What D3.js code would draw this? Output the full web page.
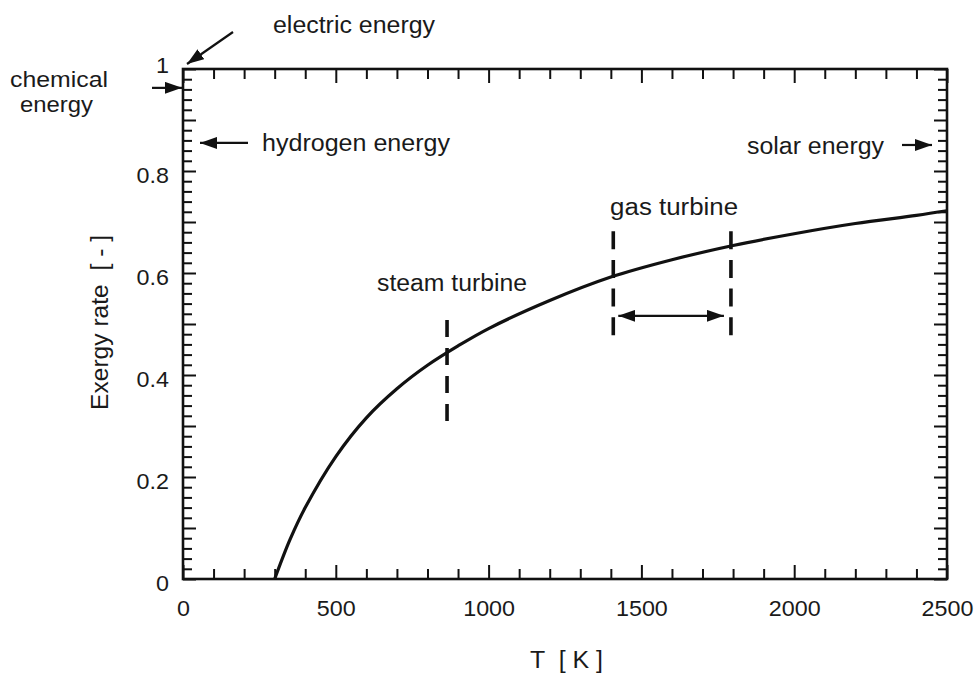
<!DOCTYPE html>
<html>
<head>
<meta charset="utf-8">
<script src="https://cdn.jsdelivr.net/npm/d3@7"></script>
<style>
  html, body { margin: 0; padding: 0; background: #fff; }
  svg { display: block; }
  text { font-family: "Liberation Sans", Arial, Helvetica, sans-serif; fill: #1a1a1a; }
</style>
</head>
<body>
<svg id="chart" width="976" height="673"></svg>
<script>
// ---------- data ----------
const temperatures = [300, 350, 400, 500, 600, 700, 800, 900, 1000, 1200, 1400, 1600, 1800, 2000, 2200, 2400, 2500];
const exergyRate   = [0.0, 0.077, 0.140, 0.240, 0.316, 0.373, 0.419, 0.457, 0.491, 0.546, 0.592, 0.626, 0.654, 0.677, 0.697, 0.713, 0.722];

const xTickValues = [0, 500, 1000, 1500, 2000, 2500];
const xTickLabels = ["0", "500", "1000", "1500", "2000", "2500"];
const yTickValues = [0, 0.2, 0.4, 0.6, 0.8, 1];
const yTickLabels = ["0", "0.2", "0.4", "0.6", "0.8", "1"];

const steamTurbineT = 864;
const steamTurbineRange = [0.308, 0.508];
const gasTurbineT = [1408, 1793];
const gasTurbineRange = [0.478, 0.682];
const gasArrowLevel = 0.516;

const energyNames  = ["electric energy", "chemical energy", "hydrogen energy", "solar energy"];
const energyLevels = [1.0, 0.963, 0.855, 0.851];

const xTitle = "T  [ K ]";
const yTitle = "Exergy rate  [ - ]";

// ---------- layout ----------
const svg = d3.select("#chart");
const pLeft = 183, pRight = 947, pTop = 69, pBottom = 579;
const x = d3.scaleLinear().domain([0, 2500]).range([pLeft, pRight]);
const y = d3.scaleLinear().domain([0, 1]).range([pBottom, pTop]);

const defs = svg.append("defs");
function marker(id, w, h) {
  defs.append("marker").attr("id", id)
    .attr("viewBox", `0 0 ${w} ${h}`).attr("refX", w).attr("refY", h / 2)
    .attr("markerWidth", w).attr("markerHeight", h).attr("markerUnits", "userSpaceOnUse")
    .attr("orient", "auto-start-reverse")
    .append("path").attr("d", `M0,0 L${w},${h/2} L0,${h} Z`).attr("fill", "#111");
}
marker("arrowHead", 17, 12);

// stretch text horizontally a little, like the reference lettering
function widen(sel, factor) {
  sel.each(function () {
    const len = this.getComputedTextLength();
    d3.select(this).attr("textLength", len * factor).attr("lengthAdjust", "spacingAndGlyphs");
  });
}

// ---------- ticks (inward, all four sides) ----------
function styleAxis(g) {
  g.select(".domain").remove();
  g.selectAll("line").attr("stroke", "#111").attr("stroke-width", 2);
}
const xMinor = d3.range(0, 2501, 100).filter(v => v % 500 !== 0);
const yMinor = d3.range(0, 51, 1).filter(i => i % 5 !== 0).map(i => i / 50);
const yMajor = d3.range(0, 11, 1).map(i => i / 10);

svg.append("g").attr("transform", `translate(0,${pBottom})`)
  .call(d3.axisBottom(x).tickValues(xMinor).tickSize(-10).tickFormat("")).call(styleAxis);
svg.append("g").attr("transform", `translate(0,${pBottom})`)
  .call(d3.axisBottom(x).tickValues(xTickValues).tickSize(-14).tickFormat("")).call(styleAxis);
svg.append("g").attr("transform", `translate(0,${pTop})`)
  .call(d3.axisTop(x).tickValues(xMinor).tickSize(-10).tickFormat("")).call(styleAxis);
svg.append("g").attr("transform", `translate(0,${pTop})`)
  .call(d3.axisTop(x).tickValues(xTickValues).tickSize(-14).tickFormat("")).call(styleAxis);

svg.append("g").attr("transform", `translate(${pLeft},0)`)
  .call(d3.axisLeft(y).tickValues(yMinor).tickSize(-9).tickFormat("")).call(styleAxis);
svg.append("g").attr("transform", `translate(${pLeft},0)`)
  .call(d3.axisLeft(y).tickValues(yMajor).tickSize(-13).tickFormat("")).call(styleAxis);
svg.append("g").attr("transform", `translate(${pRight},0)`)
  .call(d3.axisRight(y).tickValues(yMinor).tickSize(-9).tickFormat("")).call(styleAxis);
svg.append("g").attr("transform", `translate(${pRight},0)`)
  .call(d3.axisRight(y).tickValues(yMajor).tickSize(-13).tickFormat("")).call(styleAxis);

// tick labels
const xLab = svg.append("g").attr("transform", `translate(0,${pBottom})`)
  .call(d3.axisBottom(x).tickValues(xTickValues).tickSize(0).tickPadding(21)
    .tickFormat((d, i) => xTickLabels[i]));
xLab.select(".domain").remove();
xLab.selectAll("text").style("font-size", "22px").attr("fill", "#1a1a1a")
  .style("font-family", "'Liberation Sans', Arial, sans-serif");
widen(xLab.selectAll("text"), 1.06);

const yLab = svg.append("g").attr("transform", `translate(${pLeft},0)`)
  .call(d3.axisLeft(y).tickValues(yTickValues).tickSize(0).tickPadding(14)
    .tickFormat((d, i) => yTickLabels[i]));
yLab.select(".domain").remove();
yLab.selectAll("text").style("font-size", "22px").attr("fill", "#1a1a1a")
  .style("font-family", "'Liberation Sans', Arial, sans-serif")
  .attr("dy", d => d === 1 ? "0.15em" : "0.5em");
widen(yLab.selectAll("text"), 1.06);

// frame
svg.append("rect").attr("x", pLeft).attr("y", pTop)
  .attr("width", pRight - pLeft).attr("height", pBottom - pTop)
  .attr("fill", "none").attr("stroke", "#111").attr("stroke-width", 2.6);

// ---------- curve ----------
const pts = temperatures.map((t, i) => [t, exergyRate[i]]);
svg.append("path").datum(pts)
  .attr("d", d3.line().x(d => x(d[0])).y(d => y(d[1])).curve(d3.curveCatmullRom.alpha(0.5)))
  .attr("fill", "none").attr("stroke", "#111").attr("stroke-width", 3.2);

// ---------- turbine markers ----------
svg.append("line")
  .attr("x1", x(steamTurbineT)).attr("x2", x(steamTurbineT))
  .attr("y1", y(steamTurbineRange[1])).attr("y2", y(steamTurbineRange[0]))
  .attr("stroke", "#111").attr("stroke-width", 3.6).attr("stroke-dasharray", "17,11");
gasTurbineT.forEach(t => {
  svg.append("line")
    .attr("x1", x(t)).attr("x2", x(t))
    .attr("y1", y(gasTurbineRange[1])).attr("y2", y(gasTurbineRange[0]))
    .attr("stroke", "#111").attr("stroke-width", 3.6).attr("stroke-dasharray", "18,10.7");
});
svg.append("line")
  .attr("x1", x(gasTurbineT[0]) + 5).attr("x2", x(gasTurbineT[1]) - 7)
  .attr("y1", y(gasArrowLevel)).attr("y2", y(gasArrowLevel))
  .attr("stroke", "#111").attr("stroke-width", 2.2)
  .attr("marker-start", "url(#arrowHead)").attr("marker-end", "url(#arrowHead)");

const ann = svg.append("g").style("font-size", "23px");
ann.append("text").attr("x", (x(gasTurbineT[0]) + x(gasTurbineT[1])) / 2 + 2).attr("y", y(gasTurbineRange[1]) - 16)
  .attr("text-anchor", "middle").attr("textLength", 128).attr("lengthAdjust", "spacingAndGlyphs")
  .text("gas turbine");
ann.append("text").attr("x", x(steamTurbineT) + 5).attr("y", y(steamTurbineRange[1]) - 29)
  .attr("text-anchor", "middle").attr("textLength", 150).attr("lengthAdjust", "spacingAndGlyphs")
  .text("steam turbine");

// ---------- energy annotations ----------
// electric energy (diagonal arrow to the corner, value 1 at T = 0)
svg.append("line").attr("x1", 233).attr("y1", 32).attr("x2", x(0) + 4).attr("y2", y(energyLevels[0]) - 5)
  .attr("stroke", "#111").attr("stroke-width", 2.2).attr("marker-end", "url(#arrowHead)");
ann.append("text").attr("x", 273).attr("y", 33)
  .attr("textLength", 162).attr("lengthAdjust", "spacingAndGlyphs").text(energyNames[0]);

// chemical energy
svg.append("line").attr("x1", 152).attr("x2", x(0) - 1)
  .attr("y1", y(energyLevels[1])).attr("y2", y(energyLevels[1]))
  .attr("stroke", "#111").attr("stroke-width", 2.2).attr("marker-end", "url(#arrowHead)");
const chemWords = energyNames[1].split(" ");
ann.append("text").attr("x", 10).attr("y", 87).style("font-size", "22px")
  .attr("textLength", 98).attr("lengthAdjust", "spacingAndGlyphs").text(chemWords[0]);
ann.append("text").attr("x", 20).attr("y", 112).style("font-size", "22px")
  .attr("textLength", 73).attr("lengthAdjust", "spacingAndGlyphs").text(chemWords[1]);

// hydrogen energy
svg.append("line").attr("x1", 248).attr("x2", x(0) + 17)
  .attr("y1", y(energyLevels[2])).attr("y2", y(energyLevels[2]))
  .attr("stroke", "#111").attr("stroke-width", 2.2).attr("marker-end", "url(#arrowHead)");
ann.append("text").attr("x", 262).attr("y", y(energyLevels[2]) + 8)
  .attr("textLength", 188).attr("lengthAdjust", "spacingAndGlyphs").text(energyNames[2]);

// solar energy
svg.append("line").attr("x1", 902).attr("x2", x(2500) - 15)
  .attr("y1", y(energyLevels[3])).attr("y2", y(energyLevels[3]))
  .attr("stroke", "#111").attr("stroke-width", 2.2).attr("marker-end", "url(#arrowHead)");
ann.append("text").attr("x", 747).attr("y", y(energyLevels[3]) + 9)
  .attr("textLength", 137).attr("lengthAdjust", "spacingAndGlyphs").text(energyNames[3]);

// ---------- axis titles ----------
svg.append("text").attr("x", 530).attr("y", 668)
  .style("font-size", "23px").style("white-space", "pre").attr("xml:space", "preserve")
  .attr("textLength", 73).attr("lengthAdjust", "spacingAndGlyphs").text(xTitle);
svg.append("text").attr("transform", "translate(108,410) rotate(-90)")
  .style("font-size", "23px").style("white-space", "pre").attr("xml:space", "preserve")
  .attr("textLength", 175).attr("lengthAdjust", "spacingAndGlyphs").text(yTitle);
</script>
</body>
</html>
